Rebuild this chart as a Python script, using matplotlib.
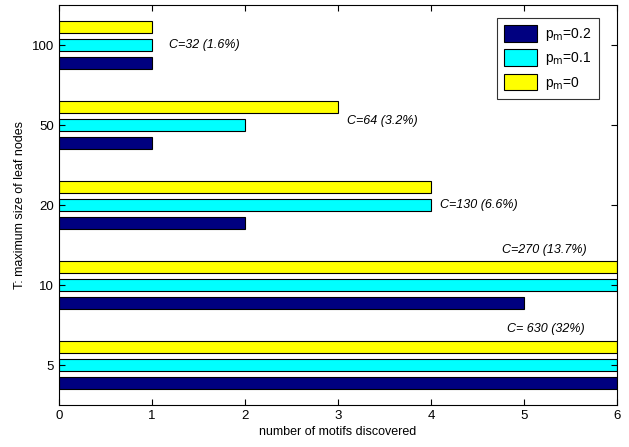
import numpy as np
import matplotlib.pyplot as plt

    #Data
T_labels = ['5', '10', '20', '50', '100']
pm02 = [6, 5, 2, 1, 1]
pm01 = [6, 6, 4, 2, 1]
pm00 = [6, 6, 4, 3, 1]
series_names = [r'p$_\mathrm{m}$=0.2', r'p$_\mathrm{m}$=0.1', r'p$_\mathrm{m}$=0']
colors = ['#000080', '#00FFFF', '#FFFF00']

notes = ['C= 630 (32%)', 'C=270 (13.7%)', 'C=130 (6.6%)', 'C=64 (3.2%)', 'C=32 (1.6%)']
note_x = [4.82, 4.76, 4.1, 3.1, 1.18]
note_dy = [0.45, 0.44, 0.0, 0.05, 0.0]

plt.rcParams['font.family'] = ['Liberation Sans Narrow', 'Liberation Sans', 'DejaVu Sans']
plt.rcParams['font.size'] = 9

fig = plt.figure(figsize=(6.29, 4.47), dpi=100)
ax = fig.add_axes([59/629, 42/447, 558/629, 400/447])

y = np.arange(1, len(T_labels) + 1)
h = 0.15
offs = [-0.22, 0.0, 0.22]
for vals, off, c, name in zip([pm02, pm01, pm00], offs, colors, series_names):
    ax.barh(y + off, vals, height=h, color=c, edgecolor='black', linewidth=0.8, label=name)

for yy, txt, xx, dy in zip(y, notes, note_x, note_dy):
    ax.text(xx, yy + dy, txt, fontstyle='italic', va='center', ha='left', fontsize=9)

ax.set_xlim(0, 6)
ax.set_ylim(0.5, 5.5)
ax.set_yticks(y)
ax.set_yticklabels(T_labels)
ax.set_xticks(range(7))
ax.tick_params(direction='in', top=True, right=True, length=4, labelsize=9.5)
ax.set_xlabel('number of motifs discovered', fontsize=9, labelpad=3)
ax.set_ylabel('T: maximum size of leaf nodes', fontsize=9)

leg = ax.legend(loc='upper right', fancybox=False, edgecolor='black', fontsize=10,
                handlelength=2.4, handleheight=1.5, bbox_to_anchor=(0.98, 0.985),
                borderpad=0.5, labelspacing=0.45, handletextpad=0.6)
leg.get_frame().set_linewidth(0.8)

plt.savefig('out.png', dpi=100)
